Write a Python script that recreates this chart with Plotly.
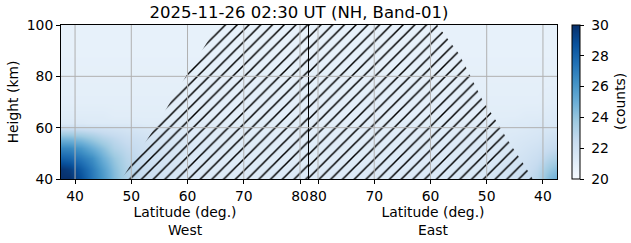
import plotly.graph_objects as go

# ---------------- data ----------------
title_text = "2025-11-26 02:30 UT (NH, Band-01)"
lat_grid = [37.5, 39, 41, 43, 45, 47, 49, 52, 56, 60, 66, 72, 78, 81.6]
heights = [40, 44, 48, 52, 56, 60, 62, 65, 70, 80, 90, 100]

z_west = [
    [30.0, 30.0, 28.8, 27.3, 26.0, 24.5, 23.3, 22.4, 21.8, 21.5, 21.4, 21.3, 21.3, 21.3],
    [29.8, 29.5, 28.3, 27.1, 25.7, 24.3, 23.2, 22.4, 21.8, 21.5, 21.3, 21.3, 21.3, 21.3],
    [28.1, 27.9, 27.2, 26.4, 25.0, 23.9, 23.0, 22.3, 21.8, 21.5, 21.3, 21.2, 21.2, 21.2],
    [26.7, 26.6, 26.0, 25.1, 24.2, 23.2, 22.7, 22.2, 21.7, 21.5, 21.3, 21.2, 21.2, 21.2],
    [24.6, 24.5, 24.2, 23.7, 23.1, 22.7, 22.3, 22.0, 21.6, 21.4, 21.2, 21.2, 21.1, 21.1],
    [22.3, 22.3, 22.2, 22.1, 22.0, 21.9, 21.8, 21.6, 21.4, 21.3, 21.2, 21.1, 21.1, 21.1],
    [21.4, 21.4, 21.4, 21.3, 21.3, 21.3, 21.3, 21.2, 21.2, 21.2, 21.1, 21.1, 21.1, 21.1],
    [21.2, 21.2, 21.2, 21.2, 21.2, 21.1, 21.1, 21.1, 21.1, 21.1, 21.0, 21.0, 21.0, 21.0],
    [21.0, 21.0, 21.0, 21.0, 21.0, 21.0, 21.0, 21.0, 21.0, 21.0, 21.0, 21.0, 21.0, 21.0],
    [20.9, 20.9, 20.9, 20.9, 20.9, 20.9, 20.9, 20.9, 20.9, 20.9, 20.9, 20.9, 20.9, 20.9],
    [20.8, 20.8, 20.8, 20.8, 20.8, 20.8, 20.8, 20.8, 20.8, 20.8, 20.8, 20.8, 20.8, 20.8],
    [20.8, 20.8, 20.8, 20.8, 20.8, 20.8, 20.8, 20.8, 20.8, 20.8, 20.8, 20.8, 20.8, 20.8],
]

z_east = [
    [25.0, 24.5, 23.0, 22.4, 22.1, 21.9, 21.7, 21.6, 21.5, 21.4, 21.4, 21.3, 21.3, 21.3],
    [24.3, 23.8, 22.7, 22.2, 22.0, 21.8, 21.6, 21.5, 21.4, 21.4, 21.3, 21.3, 21.3, 21.3],
    [23.3, 23.0, 22.3, 22.0, 21.8, 21.6, 21.5, 21.4, 21.4, 21.3, 21.3, 21.2, 21.2, 21.2],
    [22.6, 22.4, 22.0, 21.8, 21.6, 21.5, 21.4, 21.4, 21.3, 21.3, 21.2, 21.2, 21.2, 21.2],
    [22.1, 22.0, 21.7, 21.6, 21.5, 21.4, 21.3, 21.3, 21.3, 21.2, 21.2, 21.1, 21.1, 21.1],
    [21.7, 21.6, 21.5, 21.4, 21.3, 21.3, 21.2, 21.2, 21.2, 21.1, 21.1, 21.1, 21.1, 21.1],
    [21.5, 21.4, 21.4, 21.3, 21.3, 21.2, 21.2, 21.1, 21.1, 21.1, 21.1, 21.0, 21.0, 21.0],
    [21.4, 21.3, 21.2, 21.2, 21.1, 21.1, 21.1, 21.0, 21.0, 21.0, 21.0, 21.0, 21.0, 21.0],
    [21.1, 21.1, 21.0, 21.0, 21.0, 21.0, 21.0, 21.0, 21.0, 21.0, 21.0, 21.0, 21.0, 21.0],
    [20.9, 20.9, 20.9, 20.9, 20.9, 20.9, 20.9, 20.9, 20.9, 20.9, 20.9, 20.9, 20.9, 20.9],
    [20.8, 20.8, 20.8, 20.8, 20.8, 20.8, 20.8, 20.8, 20.8, 20.8, 20.8, 20.8, 20.8, 20.8],
    [20.8, 20.8, 20.8, 20.8, 20.8, 20.8, 20.8, 20.8, 20.8, 20.8, 20.8, 20.8, 20.8, 20.8],
]

# terminator (hatched region) boundary
west_bound_h = [40, 51, 60, 76, 87, 100]
west_bound_lat = [48.3, 51.5, 54.2, 58.6, 61.7, 65.4]
east_bound_h = [40, 46, 55, 65, 71, 84, 89, 100]
east_bound_lat = [41.8, 43.5, 46.2, 49.0, 50.8, 53.8, 55.0, 58.8]

lat_min, lat_max = 37.5, 81.6
h_min, h_max = 40, 100
xticks = [40, 50, 60, 70, 80]
yticks = [40, 60, 80, 100]
cbar_ticks = [20, 22, 24, 26, 28, 30]
cbar_title = "(counts)"
zmin, zmax = 20, 30

blues = ['rgb(247,251,255)', 'rgb(222,235,247)', 'rgb(198,219,239)', 'rgb(158,202,225)',
         'rgb(107,174,214)', 'rgb(66,146,198)', 'rgb(33,113,181)', 'rgb(8,81,156)', 'rgb(8,48,107)']

# ---------------- layout geometry ----------------
W, H = 631, 243
ml, mr, mt, mb = 61, 51, 25, 64
pw = W - ml - mr
mid = 248 / pw
right = 496 / pw

FONT = "DejaVu Sans"
fs = 13.9

fig = go.Figure()

fig.add_trace(go.Heatmap(x=lat_grid, y=heights, z=z_west, colorscale=blues, zmin=zmin, zmax=zmax,
                         zsmooth='best', xaxis='x', yaxis='y', showscale=True,
                         colorbar=dict(x=(572 - ml) / pw, xanchor='left', xpad=0, ypad=0,
                                       y=0.5, yanchor='middle', len=1, lenmode='fraction',
                                       thickness=8, outlinewidth=1, outlinecolor='black',
                                       tickvals=cbar_ticks,
                                       ticktext=['\u00a0' + str(t) for t in cbar_ticks],
                                       ticks='outside', ticklen=4,
                                       tickcolor='black', tickfont=dict(family=FONT, size=fs, color='black'))))
fig.add_trace(go.Heatmap(x=lat_grid, y=heights, z=z_east, colorscale=blues, zmin=zmin, zmax=zmax,
                         zsmooth='best', xaxis='x2', yaxis='y2', showscale=False))

pattern = dict(shape='/', fgcolor='black', bgcolor='rgba(0,0,0,0)', fgopacity=1, size=8.3, solidity=0.18)
wx = west_bound_lat + [lat_max, lat_max]
wy = west_bound_h + [h_max, h_min]
fig.add_trace(go.Scatter(x=wx, y=wy, mode='none', fill='toself', fillcolor='rgba(0,0,0,0)',
                         fillpattern=pattern, xaxis='x', yaxis='y', showlegend=False, hoverinfo='skip'))
ex = east_bound_lat + [lat_max, lat_max]
ey = east_bound_h + [h_max, h_min]
fig.add_trace(go.Scatter(x=ex, y=ey, mode='none', fill='toself', fillcolor='rgba(0,0,0,0)',
                         fillpattern=pattern, xaxis='x2', yaxis='y2', showlegend=False, hoverinfo='skip'))

# grid lines drawn above image (like matplotlib)
shapes = []
for xr, yr in (('x', 'y'), ('x2', 'y2')):
    for t in xticks:
        shapes.append(dict(type='line', xref=xr, yref=yr + ' domain', x0=t, x1=t, y0=0, y1=1,
                           line=dict(color='#b0b0b0', width=1), layer='above'))
    for t in yticks[1:-1]:
        shapes.append(dict(type='line', xref=xr + ' domain', yref=yr, x0=0, x1=1, y0=t, y1=t,
                           line=dict(color='#b0b0b0', width=1), layer='above'))

axis_common = dict(showgrid=False, zeroline=False, showline=True, mirror=True, linecolor='black',
                   linewidth=1, ticks='outside', ticklen=4, tickcolor='black',
                   tickfont=dict(family=FONT, size=fs, color='black'))

fig.update_layout(
    width=W, height=H,
    margin=dict(l=ml, r=mr, t=mt, b=mb, autoexpand=False),
    paper_bgcolor='white', plot_bgcolor='white',
    font=dict(family=FONT, size=fs, color='black'),
    title=dict(text=title_text, x=299 / W, xref='container', xanchor='center',
               y=1 - 12 / H, yref='container', yanchor='middle',
               font=dict(family=FONT, size=16.5, color='black')),
    shapes=shapes,
    annotations=[dict(text=cbar_title, xref='paper', yref='paper', x=(620 - ml) / pw, y=0.5,
                      xanchor='center', yanchor='middle', textangle=-90, showarrow=False,
                      font=dict(family=FONT, size=fs, color='black'))],
    xaxis=dict(domain=[0, mid], range=[lat_min, lat_max], tickvals=xticks,
               title=dict(text='Latitude (deg.)<br>West', standoff=2,
                          font=dict(family=FONT, size=fs, color='black')), **axis_common),
    xaxis2=dict(domain=[mid, right], range=[lat_max, lat_min], tickvals=xticks, anchor='y2',
                title=dict(text='Latitude (deg.)<br>East', standoff=2,
                           font=dict(family=FONT, size=fs, color='black')), **axis_common),
    yaxis=dict(domain=[0, 1], range=[h_min, h_max], tickvals=yticks,
               title=dict(text='Height (km)', standoff=4,
                          font=dict(family=FONT, size=fs, color='black')), **axis_common),
    yaxis2=dict(domain=[0, 1], range=[h_min, h_max], tickvals=yticks, anchor='x2',
                showticklabels=False, **{k: v for k, v in axis_common.items() if k != 'ticks'}, ticks=''),
)

fig.write_html("out.html")
